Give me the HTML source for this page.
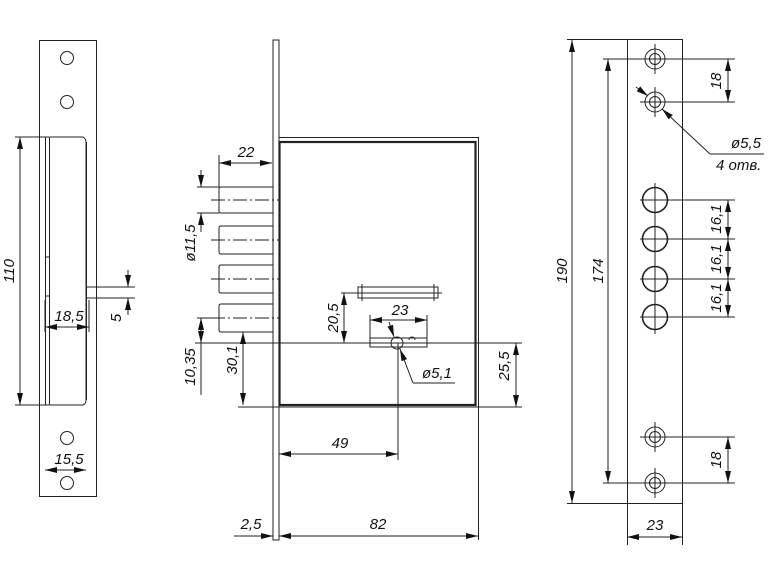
<!DOCTYPE html>
<html><head><meta charset="utf-8"><style>
html,body{margin:0;padding:0;background:#fff;}
svg{display:block;}
text{font-family:"Liberation Sans","DejaVu Sans",sans-serif;font-style:italic;font-size:15px;fill:#111;}
</style></head><body>
<svg width="782" height="567" viewBox="0 0 782 567" xmlns="http://www.w3.org/2000/svg">
<defs>
<marker id="a" viewBox="0 0 12 6" refX="12" refY="3" markerWidth="12" markerHeight="6" orient="auto-start-reverse" markerUnits="userSpaceOnUse"><path d="M0,0 L12,3 L0,6 z" fill="#111"/></marker>
</defs>
<g stroke="#222" stroke-width="1" fill="none">
<!-- LEFT VIEW -->
<rect x="39.5" y="40.5" width="57" height="456"/>
<circle cx="67" cy="58" r="6.5"/><circle cx="67" cy="102" r="6.5"/>
<circle cx="67" cy="438" r="6.5"/><circle cx="67" cy="483" r="6.5"/>
<path d="M49.5,137 V405 M49.5,137 H83 Q86,139 86,142 V400 Q86,404 83,405 H49.5"/>
<path d="M86.5,142 V400"/>
<path d="M45.5,137 V405 M45.5,257 H49 M45.5,296 H49"/>
<path d="M15,137 H49 M15,405 H49"/>
<line x1="20" y1="137" x2="20" y2="405" marker-start="url(#a)" marker-end="url(#a)"/>
<path d="M45,300 V332 M89,300 V332"/>
<line x1="45" y1="327" x2="89" y2="327" marker-start="url(#a)" marker-end="url(#a)"/>
<path d="M86,287 H135 M86,298 H135"/>
<line x1="128" y1="270" x2="128" y2="287" marker-end="url(#a)"/>
<line x1="128" y1="315" x2="128" y2="298" marker-end="url(#a)"/>
<line x1="45" y1="470" x2="86" y2="470" marker-start="url(#a)" marker-end="url(#a)"/>

<!-- MIDDLE VIEW -->
<rect x="273" y="40" width="6" height="500"/>
<path d="M279,137.5 H478.5 V405"/>
<rect x="279.5" y="142" width="196" height="263" stroke-width="2.2"/>
<g>
<path d="M273,187 H221 Q219,187 219,189 V211 Q219,213 221,213 H273"/>
<path d="M273,226 H221 Q219,226 219,228 V252 Q219,254 221,254 H273"/>
<path d="M273,265 H221 Q219,265 219,267 V291 Q219,293 221,293 H273"/>
<path d="M273,304 H221 Q219,304 219,306 V330 Q219,332 221,332 H273"/>
</g>
<g stroke-dasharray="14,3,2,3">
<path d="M211,200 H279 M211,240 H279 M211,279 H279 M211,318 H279"/>
</g>
<path d="M219,155 V187"/>
<line x1="219" y1="163" x2="272" y2="163" marker-start="url(#a)" marker-end="url(#a)"/>
<path d="M197,187 H219 M197,213 H219"/>
<line x1="201" y1="170" x2="201" y2="187" marker-end="url(#a)"/>
<line x1="201" y1="232" x2="201" y2="213" marker-end="url(#a)"/>
<path d="M197,318 H219"/>
<line x1="201" y1="318" x2="201" y2="343" marker-start="url(#a)" marker-end="url(#a)"/>
<line x1="201" y1="343" x2="201" y2="395"/>
<path d="M195,343 H522"/>
<line x1="243" y1="332" x2="243" y2="405" marker-start="url(#a)" marker-end="url(#a)"/>
<path d="M238,407 H522"/>
<rect x="358" y="287" width="80" height="11"/>
<path d="M341,293 H442 M362,284 V301 M434,284 V301"/>
<line x1="344" y1="293" x2="344" y2="343" marker-start="url(#a)" marker-end="url(#a)"/>
<rect x="370" y="338" width="57" height="9"/>
<path d="M370,315 V338 M427,315 V338"/>
<line x1="370" y1="320" x2="427" y2="320" marker-start="url(#a)" marker-end="url(#a)"/>
<circle cx="397" cy="343" r="6"/>
<path d="M409,340 a3,3 0 0 1 6,0"/>
<path d="M398,343 V460"/>
<line x1="389" y1="322" x2="394" y2="337" marker-end="url(#a)"/>
<line x1="413" y1="383" x2="400" y2="349" marker-end="url(#a)"/>
<path d="M413,383 H455"/>
<line x1="516" y1="343" x2="516" y2="407" marker-start="url(#a)" marker-end="url(#a)"/>
<line x1="279" y1="454" x2="398" y2="454" marker-start="url(#a)" marker-end="url(#a)"/>
<path d="M478.5,405 V540"/>
<line x1="234" y1="536" x2="273" y2="536" marker-end="url(#a)"/>
<line x1="279" y1="536" x2="478" y2="536" marker-start="url(#a)" marker-end="url(#a)"/>

<!-- RIGHT VIEW -->
<rect x="627.5" y="39.5" width="55" height="464"/>
<g>
<circle cx="655" cy="59" r="10"/><circle cx="655" cy="59" r="5.5"/>
<circle cx="655" cy="102" r="10"/><circle cx="655" cy="102" r="5.5"/>
<circle cx="655" cy="437" r="10"/><circle cx="655" cy="437" r="5.5"/>
<circle cx="655" cy="483" r="10"/><circle cx="655" cy="483" r="5.5"/>
<circle cx="655" cy="200" r="12.5" stroke-width="1.6"/>
<circle cx="655" cy="239" r="12.5" stroke-width="1.6"/>
<circle cx="655" cy="279" r="12.5" stroke-width="1.6"/>
<circle cx="655" cy="317" r="12.5" stroke-width="1.6"/>
</g>
<path d="M655,44 V74 M640,59 H670 M655,87 V117 M640,102 H670 M655,422 V452 M640,437 H670 M655,468 V498 M640,483 H670 M655,183 V334"/>
<path d="M640,200 H735 M640,239 H735 M640,279 H735 M640,317 H735"/>
<path d="M603,59 H735 M667,102 H735 M667,437 H735 M603,483 H735"/>
<path d="M567,39.5 H627 M567,503.5 H627"/>
<line x1="572" y1="40" x2="572" y2="503" marker-start="url(#a)" marker-end="url(#a)"/>
<line x1="608" y1="59" x2="608" y2="483" marker-start="url(#a)" marker-end="url(#a)"/>
<line x1="728" y1="59" x2="728" y2="102" marker-start="url(#a)" marker-end="url(#a)"/>
<line x1="728" y1="437" x2="728" y2="483" marker-start="url(#a)" marker-end="url(#a)"/>
<line x1="728" y1="200" x2="728" y2="239" marker-start="url(#a)" marker-end="url(#a)"/>
<line x1="728" y1="239" x2="728" y2="279" marker-start="url(#a)" marker-end="url(#a)"/>
<line x1="728" y1="279" x2="728" y2="317" marker-start="url(#a)" marker-end="url(#a)"/>
<line x1="636" y1="87" x2="648" y2="96" marker-end="url(#a)"/>
<line x1="710" y1="154" x2="662" y2="109" marker-end="url(#a)"/>
<path d="M710,154 H764"/>
<path d="M627.5,503 V545 M682.5,503 V545"/>
<line x1="627" y1="537" x2="682" y2="537" marker-start="url(#a)" marker-end="url(#a)"/>
</g>
<g>
<text x="14" y="271" transform="rotate(-90 14 271)" text-anchor="middle">110</text>
<text x="69" y="321" text-anchor="middle">18,5</text>
<text x="121" y="318" transform="rotate(-90 121 318)" text-anchor="middle">5</text>
<text x="69" y="464" text-anchor="middle">15,5</text>
<text x="246" y="157" text-anchor="middle">22</text>
<text x="195" y="243" transform="rotate(-90 195 243)" text-anchor="middle">ø11,5</text>
<text x="195" y="367" transform="rotate(-90 195 367)" text-anchor="middle">10,35</text>
<text x="237" y="360" transform="rotate(-90 237 360)" text-anchor="middle">30,1</text>
<text x="338" y="318" transform="rotate(-90 338 318)" text-anchor="middle">20,5</text>
<text x="400" y="315" text-anchor="middle">23</text>
<text x="437" y="378" text-anchor="middle">ø5,1</text>
<text x="509" y="366" transform="rotate(-90 509 366)" text-anchor="middle">25,5</text>
<text x="340" y="448" text-anchor="middle">49</text>
<text x="251" y="529" text-anchor="middle">2,5</text>
<text x="378" y="529" text-anchor="middle">82</text>
<text x="567" y="271" transform="rotate(-90 567 271)" text-anchor="middle">190</text>
<text x="603" y="271" transform="rotate(-90 603 271)" text-anchor="middle">174</text>
<text x="721" y="81" transform="rotate(-90 721 81)" text-anchor="middle">18</text>
<text x="721" y="460" transform="rotate(-90 721 460)" text-anchor="middle">18</text>
<text x="721" y="219" transform="rotate(-90 721 219)" text-anchor="middle">16,1</text>
<text x="721" y="259" transform="rotate(-90 721 259)" text-anchor="middle">16,1</text>
<text x="721" y="298" transform="rotate(-90 721 298)" text-anchor="middle">16,1</text>
<text x="731" y="148" font-size="14">ø5,5</text>
<text x="716" y="170" font-size="14">4 отв.</text>
<text x="655" y="530" text-anchor="middle">23</text>
</g>
</svg>
</body></html>
